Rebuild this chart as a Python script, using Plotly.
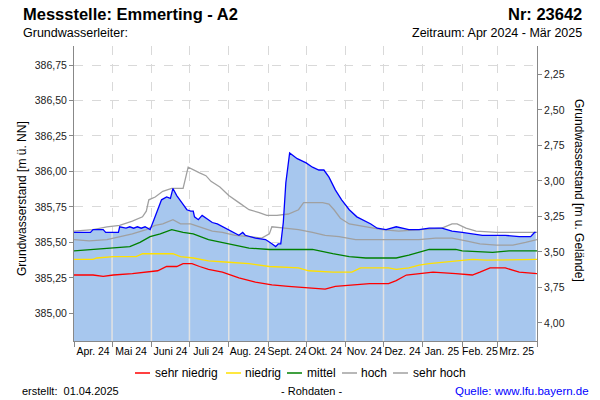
import numpy as np
import pandas as pd
import plotly.graph_objects as go

# ---------------- data ----------------
gw_datum = ["2024-04-01", "2024-04-14", "2024-04-16", "2024-04-24", "2024-04-26", "2024-05-06",
            "2024-05-07", "2024-05-12", "2024-05-15", "2024-05-18", "2024-05-21", "2024-05-24",
            "2024-05-27", "2024-05-31", "2024-06-03", "2024-06-07", "2024-06-09", "2024-06-13",
            "2024-06-16", "2024-06-18", "2024-06-21", "2024-06-25", "2024-06-29", "2024-07-02",
            "2024-07-04", "2024-07-05", "2024-07-08", "2024-07-11", "2024-07-14", "2024-07-19",
            "2024-07-23", "2024-07-27", "2024-08-02", "2024-08-09", "2024-08-12", "2024-08-14",
            "2024-08-22", "2024-08-30", "2024-09-04", "2024-09-07", "2024-09-09", "2024-09-11",
            "2024-09-13", "2024-09-15", "2024-09-18", "2024-09-22", "2024-09-24", "2024-10-01",
            "2024-10-06", "2024-10-11", "2024-10-15", "2024-10-19", "2024-10-24", "2024-10-29",
            "2024-11-04", "2024-11-10", "2024-11-17", "2024-11-21", "2024-11-26", "2024-12-03",
            "2024-12-11", "2024-12-16", "2024-12-21", "2024-12-29", "2025-01-06", "2025-01-16",
            "2025-01-24", "2025-02-01", "2025-02-09", "2025-02-17", "2025-02-28", "2025-03-07",
            "2025-03-18", "2025-03-27", "2025-03-30", "2025-03-31"]
gw_stand = [385.57, 385.57, 385.59, 385.59, 385.57, 385.57,
            385.61, 385.60, 385.61, 385.60, 385.61, 385.60,
            385.61, 385.59, 385.66, 385.76, 385.80, 385.82,
            385.81, 385.88, 385.83, 385.78, 385.73, 385.72,
            385.72, 385.68, 385.66, 385.69, 385.67, 385.64,
            385.63, 385.61, 385.58, 385.55, 385.57, 385.55,
            385.53, 385.52, 385.49, 385.47, 385.49, 385.49,
            385.64, 385.92, 386.13, 386.10, 386.09, 386.06,
            386.03, 386.01, 386.01, 385.96, 385.87, 385.80,
            385.73, 385.68, 385.65, 385.63, 385.60, 385.59,
            385.61, 385.60, 385.59, 385.59, 385.60, 385.60,
            385.58, 385.57, 385.56, 385.55, 385.55, 385.55,
            385.54, 385.54, 385.57, 385.57]

sh_datum = ["2024-04-01", "2024-04-16", "2024-04-27", "2024-05-07", "2024-05-17", "2024-05-25",
            "2024-05-28", "2024-05-30", "2024-06-04", "2024-06-10", "2024-06-17", "2024-06-26",
            "2024-06-30", "2024-07-04", "2024-07-09", "2024-07-14", "2024-07-18", "2024-07-25",
            "2024-08-01", "2024-08-09", "2024-08-17", "2024-08-25", "2024-08-31", "2024-09-08",
            "2024-09-17", "2024-09-25", "2024-09-29", "2024-10-14", "2024-10-19", "2024-10-23",
            "2024-10-28", "2024-11-04", "2024-11-17", "2024-11-30", "2024-12-13", "2024-12-29",
            "2025-01-16", "2025-01-24", "2025-01-28", "2025-02-04", "2025-02-12", "2025-02-28",
            "2025-03-18", "2025-04-01"]
sehr_hoch = [385.58, 385.59, 385.61, 385.62, 385.65, 385.68,
             385.72, 385.80, 385.82, 385.86, 385.88, 385.88,
             386.03, 386.01, 385.99, 385.97, 385.93, 385.89,
             385.83, 385.78, 385.73, 385.71, 385.69, 385.69,
             385.70, 385.73, 385.78, 385.78, 385.77, 385.73,
             385.67, 385.63, 385.61, 385.59, 385.58, 385.59,
             385.60, 385.63, 385.63, 385.60, 385.58, 385.57,
             385.57, 385.57]

h_datum = ["2024-04-01", "2024-04-13", "2024-04-27", "2024-05-07", "2024-05-17", "2024-05-28",
           "2024-06-04", "2024-06-10", "2024-06-18", "2024-06-24", "2024-07-02", "2024-07-09",
           "2024-07-19", "2024-07-27", "2024-08-06", "2024-08-17", "2024-08-27", "2024-09-02",
           "2024-09-04", "2024-09-14", "2024-09-25", "2024-10-06", "2024-10-16", "2024-10-27",
           "2024-11-09", "2024-11-25", "2024-12-13", "2024-12-29", "2025-01-11", "2025-01-24",
           "2025-02-04", "2025-02-15", "2025-02-28", "2025-03-13", "2025-03-23", "2025-04-01"]
hoch = [385.52, 385.51, 385.52, 385.54, 385.56, 385.59,
        385.62, 385.63, 385.66, 385.63, 385.63, 385.61,
        385.58, 385.57, 385.55, 385.54, 385.53, 385.56,
        385.61, 385.60, 385.59, 385.57, 385.55, 385.54,
        385.52, 385.52, 385.52, 385.52, 385.53, 385.53,
        385.51, 385.49, 385.48, 385.48, 385.50, 385.52]

m_datum = ["2024-04-01", "2024-04-16", "2024-05-02", "2024-05-15", "2024-05-23", "2024-05-31",
           "2024-06-08", "2024-06-17", "2024-06-26", "2024-07-04", "2024-07-16", "2024-08-01",
           "2024-08-17", "2024-09-02", "2024-09-17", "2024-10-06", "2024-10-22", "2024-11-04",
           "2024-11-17", "2024-12-11", "2024-12-21", "2024-12-29", "2025-01-06", "2025-01-27",
           "2025-02-01", "2025-02-25", "2025-03-10", "2025-04-01"]
mittel = [385.44, 385.45, 385.46, 385.47, 385.50, 385.54,
          385.56, 385.59, 385.57, 385.56, 385.52, 385.49,
          385.46, 385.45, 385.45, 385.45, 385.42, 385.40,
          385.39, 385.39, 385.41, 385.43, 385.45, 385.45,
          385.44, 385.43, 385.44, 385.44]

n_datum = ["2024-04-01", "2024-04-16", "2024-04-19", "2024-05-02", "2024-05-20", "2024-05-25",
           "2024-06-18", "2024-06-24", "2024-07-04", "2024-07-16", "2024-08-01", "2024-08-17",
           "2024-09-02", "2024-09-17", "2024-09-25", "2024-10-03", "2024-10-22", "2024-11-06",
           "2024-11-13", "2024-12-05", "2024-12-11", "2024-12-21", "2024-12-29", "2025-01-06",
           "2025-01-19", "2025-01-27", "2025-02-09", "2025-02-20", "2025-03-18", "2025-04-01"]
niedrig = [385.38, 385.38, 385.39, 385.40, 385.40, 385.42,
           385.42, 385.40, 385.39, 385.37, 385.36, 385.35,
           385.33, 385.32, 385.32, 385.30, 385.29, 385.29,
           385.32, 385.32, 385.31, 385.32, 385.34, 385.35,
           385.36, 385.37, 385.38, 385.375, 385.375, 385.38]

sn_datum = ["2024-04-01", "2024-04-16", "2024-04-24", "2024-05-02", "2024-05-17", "2024-05-25",
            "2024-06-06", "2024-06-13", "2024-06-21", "2024-06-26", "2024-07-03", "2024-07-09",
            "2024-07-16", "2024-07-27", "2024-08-09", "2024-08-22", "2024-09-04", "2024-09-17",
            "2024-10-03", "2024-10-16", "2024-10-24", "2024-11-09", "2024-11-20", "2024-12-05",
            "2024-12-11", "2024-12-19", "2024-12-29", "2025-01-09", "2025-01-27", "2025-02-09",
            "2025-02-15", "2025-02-23", "2025-03-07", "2025-03-18", "2025-04-01"]
sehr_niedrig = [385.27, 385.27, 385.26, 385.27, 385.28, 385.29,
                385.30, 385.33, 385.33, 385.35, 385.35, 385.33,
                385.31, 385.29, 385.25, 385.22, 385.20, 385.19,
                385.18, 385.17, 385.19, 385.20, 385.21, 385.21,
                385.23, 385.27, 385.28, 385.29, 385.28, 385.27,
                385.29, 385.32, 385.32, 385.29, 385.28]

monat_start = ["2024-04-01", "2024-05-01", "2024-06-01", "2024-07-01", "2024-08-01", "2024-09-01",
               "2024-10-01", "2024-11-01", "2024-12-01", "2025-01-01", "2025-02-01", "2025-03-01",
               "2025-04-01"]
monat_mitte = ["2024-04-16", "2024-05-16", "2024-06-16", "2024-07-16", "2024-08-16", "2024-09-16",
               "2024-10-16", "2024-11-16", "2024-12-16", "2025-01-16", "2025-02-15", "2025-03-16"]
monat_label = ["Apr. 24", "Mai 24", "Juni 24", "Juli 24", "Aug. 24", "Sept. 24", "Okt. 24",
               "Nov. 24", "Dez. 24", "Jan. 25", "Feb. 25", "Mrz. 25"]

nn_ticks = [385.00, 385.25, 385.50, 385.75, 386.00, 386.25, 386.50, 386.75]
gel_ticks = [2.25, 2.50, 2.75, 3.00, 3.25, 3.50, 3.75, 4.00]
GELAENDE = 388.933          # ground level [m ü. NN] linking both y axes
Y_MIN, Y_MAX = 384.805, 386.884

legend_names = ["sehr niedrig", "niedrig", "mittel", "hoch", "sehr hoch"]
legend_colors = ["#FF0000", "#FFE000", "#008000", "#A0A0A0", "#A0A0A0"]

# ---------------- figure ----------------
FONT = "Liberation Sans, Arial, sans-serif"
W, H = 600, 400
L, R, T, B = 74, 63, 46, 59
PW, PH = W - L - R, H - T - B


def px(xp):
    return (xp - L) / PW


def py(yp):
    return (H - B - yp) / PH


fig = go.Figure()

# filled groundwater level area
fig.add_trace(go.Scatter(x=gw_datum, y=gw_stand, mode="lines", fill="tozeroy",
                         fillcolor="#A7C7EE", line=dict(width=0), showlegend=False,
                         hoverinfo="skip"))

# light month separators inside the filled area
t_gw = pd.to_datetime(gw_datum).astype("int64")
vx, vy = [], []
for d in monat_start[1:-1]:
    top = float(np.interp(pd.Timestamp(d).value, t_gw, gw_stand))
    vx += [d, d, None]
    vy += [Y_MIN, top, None]
fig.add_trace(go.Scatter(x=vx, y=vy, mode="lines", line=dict(color="#E2E2E2", width=1.5),
                         showlegend=False, hoverinfo="skip"))

series = [(sn_datum, sehr_niedrig), (n_datum, niedrig), (m_datum, mittel),
          (h_datum, hoch), (sh_datum, sehr_hoch)]
for (dx, dy), name, col in zip(series, legend_names, legend_colors):
    fig.add_trace(go.Scatter(x=dx, y=dy, mode="lines", name=name,
                             line=dict(color=col, width=1.3), showlegend=False))

# measured level line
fig.add_trace(go.Scatter(x=gw_datum, y=gw_stand, mode="lines",
                         line=dict(color="#0000FF", width=1.3), showlegend=False))

# invisible trace for the right (depth) axis
fig.add_trace(go.Scatter(x=[gw_datum[0]], y=[GELAENDE - gw_stand[0]], yaxis="y2",
                         mode="lines", line=dict(width=0), showlegend=False,
                         hoverinfo="skip"))

fig.update_layout(
    width=W, height=H,
    margin=dict(l=L, r=R, t=T, b=B, pad=0),
    paper_bgcolor="white", plot_bgcolor="white",
    separators=",.",
    font=dict(family=FONT, size=11, color="#000"),
    showlegend=False,
    xaxis=dict(
        type="date", range=["2024-04-01", "2025-04-01"],
        tickmode="array", tickvals=monat_mitte, ticktext=monat_label, tickangle=0,
        ticks="", showgrid=False, zeroline=False,
        showline=True, linecolor="#888888", linewidth=1,
        tickfont=dict(size=10.5, color="#000"),
        minor=dict(tickmode="array", tickvals=monat_start, ticks="outside", ticklen=5,
                   tickcolor="#888888", showgrid=True, gridcolor="#D9D9D9",
                   griddash="dash", gridwidth=1),
    ),
    yaxis=dict(
        range=[Y_MIN, Y_MAX], tickmode="array", tickvals=nn_ticks, tickformat=".2f",
        ticks="outside", ticklen=4, tickcolor="#888888",
        showline=True, linecolor="#888888", linewidth=1,
        showgrid=True, gridcolor="#D9D9D9", griddash="dash", zeroline=False,
        tickfont=dict(size=10.5, color="#222"),
    ),
    yaxis2=dict(
        overlaying="y", side="right",
        range=[GELAENDE - Y_MIN, GELAENDE - Y_MAX], tickmode="array", tickvals=gel_ticks,
        tickformat=".2f", ticks="outside", ticklen=4, tickcolor="#888888",
        showline=True, linecolor="#888888", linewidth=1, showgrid=False, zeroline=False,
        tickfont=dict(size=10.5, color="#222"),
    ),
)

ann = []


def txt(text, x, y, xa, size, bold=False, color="#000", angle=0):
    ann.append(dict(text=("<b>%s</b>" % text) if bold else text, x=x, y=y,
                    xref="paper", yref="paper", xanchor=xa, yanchor="middle",
                    showarrow=False, textangle=angle,
                    font=dict(family=FONT, size=size, color=color)))


txt("Messstelle: Emmerting - A2", px(21), py(14), "left", 16.5, bold=True)
txt("Nr: 23642", px(584), py(14), "right", 16.5, bold=True)
txt("Grundwasserleiter:", px(21), py(33), "left", 12.5)
txt("Zeitraum: Apr 2024 - Mär 2025", px(584), py(33), "right", 12.5)
txt("Grundwasserstand [m ü. NN]", px(22), py(199), "center", 12, angle=-90)
txt("Grundwasserstand [m u. Gelände]", px(579), py(190), "center", 12, angle=90)
txt("erstellt:\u00a0\u00a001.04.2025", px(20), py(391), "left", 11)
txt("- Rohdaten -", px(311), py(391), "center", 11)
txt("Quelle: www.lfu.bayern.de", px(591), py(391), "right", 11.5, color="#0000FF")

# manual legend
leg_lines = [(135, 150), (226, 241), (287, 302), (342, 357), (393, 408)]
leg_text_x = [153, 243, 305, 359, 411]
shapes = []
for (a, b), tx, name, col in zip(leg_lines, leg_text_x, legend_names, legend_colors):
    shapes.append(dict(type="line", xref="paper", yref="paper", x0=px(a), x1=px(b),
                       y0=py(373), y1=py(373), line=dict(color=col, width=1.5)))
    txt(name, px(tx), py(373), "left", 12)

fig.update_layout(annotations=ann, shapes=shapes)

fig.write_html("out.html")
